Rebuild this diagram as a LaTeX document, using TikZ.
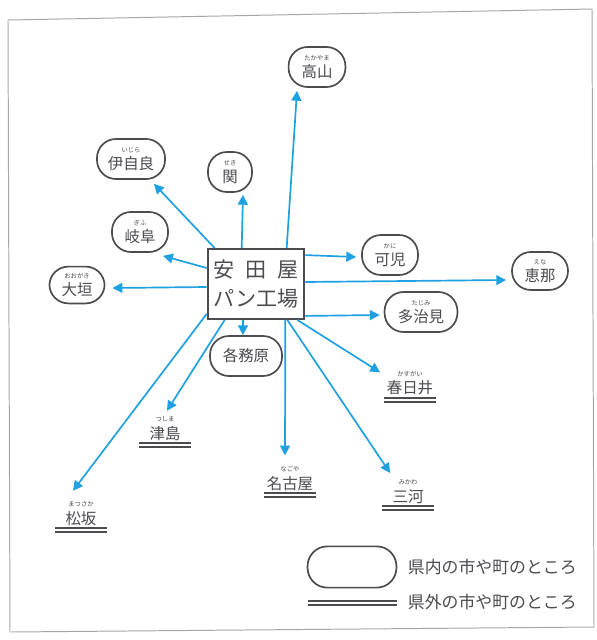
\documentclass[tikz,border=0pt]{standalone}
\usepackage{fontspec}
\setmainfont{Noto Sans CJK JP}
\usepackage{tikz}
\usetikzlibrary{calc,arrows.meta,positioning}
\definecolor{arrowblue}{RGB}{30,160,225}
\definecolor{inkgray}{RGB}{75,75,80}
\newcommand{\furi}[2]{\shortstack{\fontsize{4.5}{5}\selectfont #1\\#2}}

\begin{document}
\begin{tikzpicture}[x=0.025cm,y=-0.025cm,
		town/.style={draw=inkgray, line width=1.2pt, rounded corners=13.5pt, minimum height=1cm, minimum width=#1, inner sep=1pt, text=inkgray, font=\fontsize{11}{12}\selectfont},
		outside/.style={minimum width=1.28cm, inner sep=1pt, text=inkgray, font=\fontsize{11}{12}\selectfont},
		factory/.style={draw=inkgray, line width=1.3pt, fill=white, align=center, minimum width=2.42cm, minimum height=1.75cm, inner sep=2pt, text=inkgray, font=\fontsize{15}{20}\selectfont},
		link/.style={arrowblue, line width=1.2pt, -{Triangle[length=7pt,width=7pt]}},
		rule2/.style={draw=inkgray, line width=1.1pt, double=white, double distance=1.4pt},
		keytext/.style={anchor=west, text=inkgray, font=\fontsize{12}{14}\selectfont}]
	\fill[white] (0,0) rectangle (597,640);
	\useasboundingbox (0,0) rectangle (597,640);
	\draw[gray!70, line width=0.7pt] (8,20) -- (592,9) -- (594,627) -- (10,632) -- cycle;
	
	% towns in the prefecture
	\node[town=1.42cm] (takayama) at (317,67) {\furi{たかやま}{高山}};
	\node[town=1.7cm] (ijira) at (131,159) {\furi{いじら}{伊自良}};
	\node[town=1.1cm] (seki) at (230,172) {\furi{せき}{関}};
	\node[town=1.4cm] (gifu) at (140,232) {\furi{ぎふ}{岐阜}};
	\node[town=1.38cm, minimum height=0.92cm] (ogaki) at (77,285) {\furi{おおがき}{大垣}};
	\node[town=1.4cm] (kani) at (390,255) {\furi{かに}{可児}};
	\node[town=1.4cm, minimum height=0.95cm] (ena) at (540,271) {\furi{えな}{恵那}};
	\node[town=1.82cm] (tajimi) at (421,312) {\furi{たじみ}{多治見}};
	\node[town=1.8cm] (kakami) at (246,356) {各務原};
	
	% towns outside
	\node[outside, anchor=south] (kasugai) at (410,397) {\furi{かすがい}{春日井}};
	\node[outside, anchor=south] (tsushima) at (165,442) {\furi{つしま}{津島}};
	\node[outside, anchor=south] (nagoya) at (290,492) {\furi{なごや}{名古屋}};
	\node[outside, anchor=south] (mikawa) at (408,505) {\furi{みかわ}{三河}};
	\node[outside, anchor=south] (matsusaka) at (81,527) {\furi{まつさか}{松坂}};
	\foreach \n in {kasugai,tsushima,nagoya,mikawa,matsusaka}
	\draw[rule2] ($(\n.south west)+(0,3)$) -- ($(\n.south east)+(0,3)$);
	
	\node[factory] (fact) at (256,284) {\makebox[4em][s]{安\hfill 田\hfill 屋}\\パン工場};
	
	\draw[link] ($(fact.north west)+(80,0)$) -- ($(takayama.south)+(-20,3)$);
	\draw[link] ($(fact.north west)+(35,0)$) -- ($(seki.south)+(13,2)$);
	\draw[link] ($(fact.north west)+(8,0)$) -- ($(ijira.south)+(23,4)$);
	\draw[link] ($(fact.west)+(0,-16)$) -- ($(gifu.south)+(23,3)$);
	\draw[link] ($(fact.west)+(0,3)$) -- ($(ogaki.east)+(7,3)$);
	\draw[link] ($(fact.north east)+(0,7)$) -- ($(kani.west)+(-5,2)$);
	\draw[link] ($(fact.east)+(0,-2)$) -- ($(ena.west)+(-5,9)$);
	\draw[link] ($(fact.south east)+(0,-4)$) -- ($(tajimi.west)+(-4,3)$);
	\draw[link] ($(fact.south)+(-13,0)$) -- ($(kakami.north)+(-3,0)$);
	\draw[link] ($(fact.south east)+(-8,0)$) -- ($(kasugai.north west)+(-4,3)$);
	\draw[link] ($(fact.south east)+(-18,0)$) -- ($(mikawa.north west)+(8,-5)$);
	\draw[link] ($(fact.south east)+(-20,0)$) -- ($(nagoya.north)+(-5,-9)$);
	\draw[link] ($(fact.south west)+(18,0)$) -- ($(tsushima.north)+(2,-4)$);
	\draw[link] ($(fact.south west)+(0,-6)$) -- ($(matsusaka.north)+(-8,-9)$);
	
	% legend
	\node[town=2.22cm, minimum height=1.03cm, rounded corners=14pt] (keyin) at (352,567) {};
	\node[keytext] (keyintext) at (403,567) {県内の市や町のところ};
	\coordinate (keyoutL) at (308,603);
	\coordinate (keyoutR) at (397,603);
	\draw[rule2] (keyoutL) -- (keyoutR);
	\node[keytext] (keyouttext) at (403,602) {県外の市や町のところ};
\end{tikzpicture}
\end{document}
